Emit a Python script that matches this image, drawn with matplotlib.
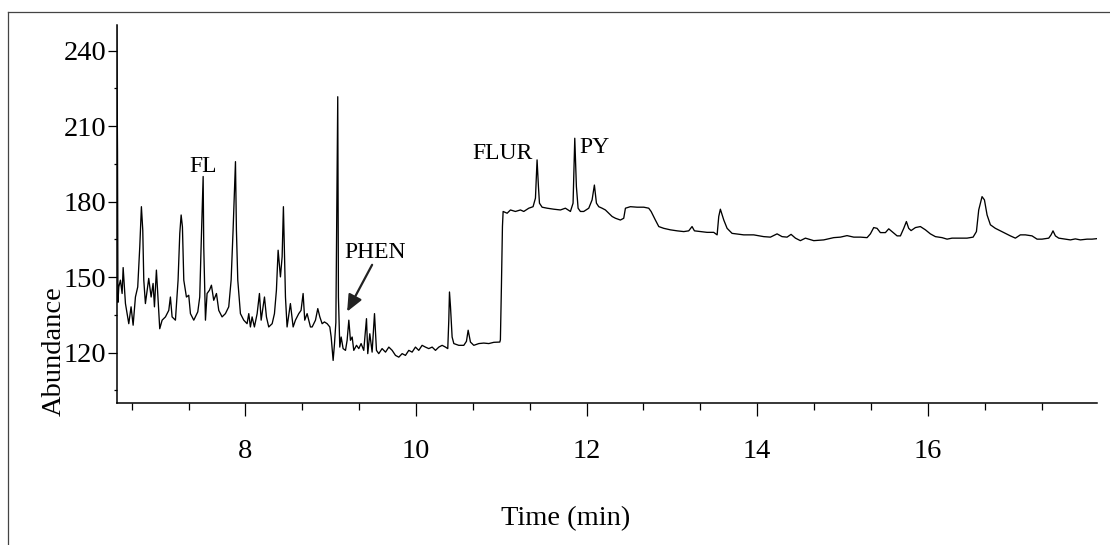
import matplotlib
matplotlib.use('Agg')
import matplotlib.pyplot as plt
from matplotlib.lines import Line2D
from matplotlib.ticker import MultipleLocator

plt.rcParams['font.family'] = ['Liberation Serif', 'DejaVu Serif']

# retention time (min) / abundance, in three pieces
t_early = [6.490, 6.500, 6.505, 6.515, 6.534, 6.554, 6.566, 6.593, 6.632, 6.659,
           6.683, 6.710, 6.737, 6.761, 6.780, 6.796, 6.808, 6.827, 6.866, 6.894,
           6.917, 6.933, 6.956, 6.976, 6.995, 7.023, 7.062, 7.101, 7.120, 7.140,
           7.179, 7.210, 7.230, 7.246, 7.261, 7.277, 7.308, 7.335, 7.355, 7.394,
           7.441, 7.464, 7.480, 7.504, 7.511, 7.531, 7.550, 7.578, 7.601, 7.628,
           7.660, 7.687, 7.726, 7.765, 7.804, 7.832, 7.855, 7.883, 7.894, 7.910,
           7.941, 7.980, 8.019, 8.039, 8.058, 8.078, 8.105, 8.137, 8.164, 8.184,
           8.207, 8.223, 8.246, 8.273, 8.313, 8.340, 8.363, 8.383, 8.410, 8.430,
           8.445, 8.469, 8.488, 8.527, 8.559, 8.586, 8.625, 8.652, 8.676, 8.695,
           8.723, 8.762, 8.782, 8.821, 8.848, 8.872, 8.899, 8.926, 8.958, 8.989,
           9.005, 9.028, 9.044, 9.060, 9.082]
a_early = [251, 200, 140, 146.1, 148.8, 143.5, 153.8, 139.5, 131.5, 138.2,
           130.9, 142.1, 146.1, 162.1, 178.0, 168.7, 148.8, 139.5, 149.5, 142.1,
           147.5, 138.2, 152.8, 140.8, 129.5, 132.9, 134.2, 136.8, 142.1, 134.2,
           132.9, 148.8, 167.4, 174.7, 170.0, 148.8, 142.1, 142.8, 135.5, 132.9,
           136.2, 142.1, 162.1, 190.0, 162.1, 132.9, 143.5, 144.8, 146.8, 140.8,
           143.5, 136.8, 134.2, 135.5, 138.2, 148.8, 168.7, 195.9, 168.7, 148.8,
           135.5, 132.9, 131.5, 135.5, 130.2, 134.2, 130.2, 135.5, 143.5, 132.9,
           138.2, 142.1, 134.2, 130.2, 131.5, 135.5, 144.8, 160.7, 150.1, 158.1,
           178.0, 142.1, 130.2, 139.5, 130.2, 132.9, 135.5, 136.8, 143.5, 132.9,
           135.5, 130.2, 130.2, 132.9, 137.5, 134.2, 131.5, 132.2, 131.5, 130.2,
           126.2, 116.9, 123.6, 132, 221.7]

t_mid = [9.090, 9.106, 9.122, 9.145, 9.173, 9.192, 9.212, 9.231, 9.251, 9.270,
         9.302, 9.329, 9.356, 9.387, 9.419, 9.434, 9.458, 9.485, 9.513, 9.536,
         9.563, 9.602, 9.642, 9.681, 9.720, 9.759, 9.798, 9.837, 9.876, 9.915,
         9.954, 9.993, 10.032, 10.071, 10.110, 10.149, 10.189, 10.228, 10.267, 10.306,
         10.345, 10.372, 10.384, 10.392, 10.404, 10.423, 10.443, 10.501, 10.560, 10.591,
         10.611, 10.638, 10.677, 10.736, 10.794, 10.853, 10.912, 10.982, 10.989]
a_mid = [142.1, 122.2, 126.2, 121.6, 120.9, 124.9, 132.9, 124.9, 126.2, 120.9,
         122.9, 121.6, 123.6, 120.9, 133.5, 119.6, 127.5, 120.2, 135.5, 120.9,
         119.6, 121.6, 120.2, 122.2, 120.9, 118.9, 118.2, 119.6, 118.9, 120.9,
         120.2, 122.2, 120.9, 122.9, 122.2, 121.6, 122.2, 120.9, 122.2, 122.9,
         122.2, 121.6, 132.9, 144.1, 138.2, 126.2, 123.6, 122.9, 122.9, 124.5,
         128.9, 124.2, 122.9, 123.6, 123.8, 123.6, 124.1, 124.2, 125.1]

t_late = [11.001, 11.013, 11.021, 11.068, 11.107, 11.165, 11.224, 11.263, 11.322, 11.372,
          11.400, 11.419, 11.435, 11.447, 11.478, 11.537, 11.615, 11.693, 11.751, 11.810,
          11.841, 11.861, 11.880, 11.900, 11.927, 11.966, 12.025, 12.064, 12.091, 12.115,
          12.142, 12.181, 12.220, 12.259, 12.299, 12.338, 12.396, 12.435, 12.455, 12.513,
          12.592, 12.670, 12.728, 12.756, 12.806, 12.846, 12.904, 12.982, 13.061, 13.139,
          13.197, 13.236, 13.264, 13.334, 13.412, 13.490, 13.530, 13.549, 13.568, 13.608,
          13.647, 13.705, 13.842, 13.959, 14.076, 14.155, 14.233, 14.291, 14.350, 14.397,
          14.448, 14.506, 14.565, 14.663, 14.780, 14.897, 14.975, 15.053, 15.132, 15.210,
          15.288, 15.327, 15.366, 15.405, 15.444, 15.503, 15.542, 15.581, 15.640, 15.679,
          15.718, 15.749, 15.776, 15.804, 15.855, 15.913, 15.972, 16.030, 16.089, 16.167,
          16.226, 16.284, 16.382, 16.460, 16.531, 16.570, 16.597, 16.636, 16.664, 16.695,
          16.734, 16.792, 16.851, 16.910, 16.968, 17.027, 17.085, 17.144, 17.222, 17.281,
          17.339, 17.418, 17.445, 17.468, 17.496, 17.535, 17.613, 17.672, 17.730, 17.789,
          17.867, 17.926, 17.984]
a_late = [146.3, 170.1, 176.1, 175.4, 176.7, 176.1, 176.7, 176.1, 177.4, 178.0,
          181.4, 196.6, 186.0, 179.4, 177.8, 177.4, 177.0, 176.7, 177.4, 176.1,
          179.4, 205.2, 186.0, 177.4, 176.1, 176.1, 177.4, 180.7, 186.6, 179.4,
          178.0, 177.4, 176.7, 175.4, 174.1, 173.4, 172.7, 173.4, 177.4, 178.0,
          177.8, 177.8, 177.4, 176.1, 172.7, 170.1, 169.4, 168.8, 168.4, 168.1,
          168.4, 170.1, 168.4, 168.1, 167.8, 167.8, 166.8, 174.1, 177.0, 172.7,
          169.4, 167.4, 166.8, 166.8, 166.1, 165.9, 167.2, 166.1, 165.9, 167.0,
          165.5, 164.5, 165.5, 164.5, 164.8, 165.7, 165.9, 166.5, 165.9, 165.9,
          165.7, 167.2, 169.7, 169.4, 167.7, 167.7, 169.2, 168.1, 166.4, 166.4,
          169.4, 172.1, 169.4, 168.5, 169.7, 170.1, 168.8, 167.2, 166.1, 165.7,
          165.1, 165.5, 165.5, 165.5, 165.9, 168.1, 176.7, 182.0, 180.7, 174.7,
          170.8, 169.4, 168.4, 167.4, 166.4, 165.5, 166.8, 166.8, 166.4, 165.1,
          165.1, 165.5, 166.8, 168.4, 166.4, 165.5, 165.1, 164.8, 165.2, 164.8,
          165.1, 165.1, 165.3]

# peak labels: name, retention time, abundance
peak_names = ['FL', 'FLUR', 'PY', 'PHEN']
peak_times = [7.503, 11.009, 12.09, 9.518]
peak_label_y = [191.8, 196.9, 199.5, 157.5]

time_min = t_early + t_mid + t_late
abundance = a_early + a_mid + a_late

fig = plt.figure(figsize=(11.1, 5.45), dpi=100)
ax = fig.add_axes([0.1051, 0.2611, 0.8829, 0.693])

ax.plot(time_min, abundance, color='black', linewidth=0.95)

ax.set_xlim(6.49, 17.98)
ax.set_ylim(100.1, 250.2)

ax.spines['top'].set_visible(False)
ax.spines['right'].set_visible(False)
for s in ['left', 'bottom']:
    ax.spines[s].set_linewidth(1.1)

ax.xaxis.set_major_locator(MultipleLocator(2))
ax.xaxis.set_minor_locator(MultipleLocator(2 / 3))
ax.yaxis.set_major_locator(MultipleLocator(30))
ax.yaxis.set_minor_locator(MultipleLocator(15))

ax.tick_params(axis='x', which='major', length=9, width=0.9, pad=17, labelsize=20.5)
ax.tick_params(axis='x', which='minor', length=5, width=0.9)
ax.tick_params(axis='y', which='major', length=6.3, width=0.9, pad=1, labelsize=20.5)
ax.tick_params(axis='y', which='minor', length=2.5, width=0.9)

for name, t, y in zip(peak_names, peak_times, peak_label_y):
    ax.text(t, y, name, ha='center', va='baseline', fontsize=17)

# arrow pointing at the PHEN peak
ax.annotate('', xy=(9.192, 136.3), xytext=(9.485, 154.9),
            arrowprops=dict(arrowstyle='-|>,head_length=0.5,head_width=0.22',
                            color='#222222', lw=1.6, mutation_scale=20,
                            shrinkA=0, shrinkB=0))

fig.text(54 / 1110, 1 - 351 / 545, 'Abundance', rotation=90,
         ha='center', va='center', fontsize=20.5)
fig.text(566 / 1110, 1 - 519 / 545, 'Time (min)',
         ha='center', va='center', fontsize=20.5)

# frame of the scanned figure (top and left edges)
fig.add_artist(Line2D([8 / 1110, 1], [1 - 12 / 545, 1 - 12 / 545],
                      transform=fig.transFigure, color='#444444', lw=0.9))
fig.add_artist(Line2D([8 / 1110, 8 / 1110], [0, 1 - 12 / 545],
                      transform=fig.transFigure, color='#444444', lw=0.9))

fig.savefig('out.png', dpi=100)
